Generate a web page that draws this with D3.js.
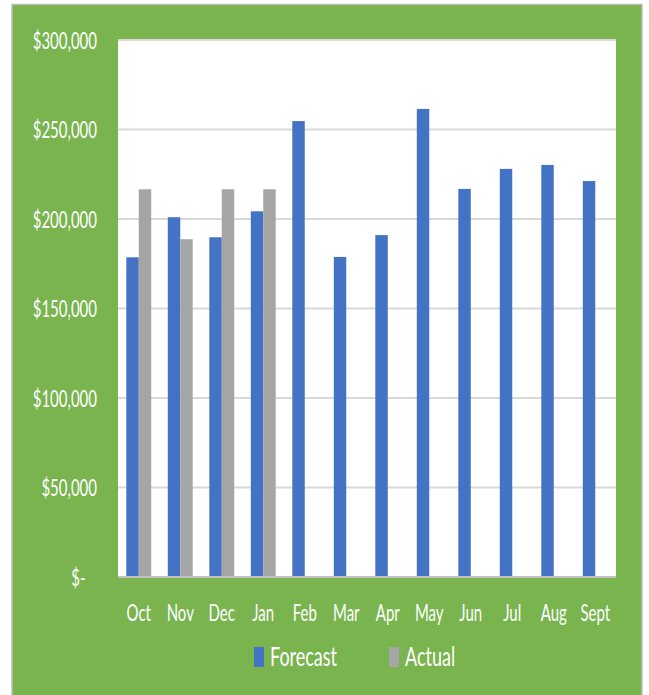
<head>
    <meta name="viewport" content="width=device-width, initial-scale=1">
    <style>
        body { margin: 0; background: #fff; }
        text { font-family: Lato, "Open Sans", sans-serif; fill: #fff; }
    </style>
    <script src="https://d3js.org/d3.v7.min.js"></script>
</head>
<body>
    <div id="chart"></div>
    <script>

        var months = ["Oct", "Nov", "Dec", "Jan", "Feb", "Mar", "Apr", "May", "Jun", "Jul", "Aug", "Sept"];
        var forecast = [178600, 201000, 189800, 204300, 254700, 178800, 191000, 261500, 216800, 228000, 230200, 221200];
        var actual = [216600, 188700, 216600, 216600, null, null, null, null, null, null, null, null];
        var yTicks = [0, 50000, 100000, 150000, 200000, 250000, 300000];
        var seriesNames = ["Forecast", "Actual"];
        var seriesColors = ["#4472c4", "#a5a5a5"];

        var W = 649, H = 695;
        var plot = { left: 118, right: 616, top: 40, bottom: 577 };

        var svg = d3.select("#chart").append("svg")
            .attr("width", W)
            .attr("height", H);

        // green chart area + grey border
        svg.append("rect")
            .attr("x", 12).attr("y", 4.5)
            .attr("width", 630).attr("height", 700)
            .attr("fill", "#79b44f")
            .attr("stroke", "#bdbdbd")
            .attr("stroke-width", 1.5);

        svg.append("rect")
            .attr("x", plot.left).attr("y", plot.top)
            .attr("width", plot.right - plot.left)
            .attr("height", plot.bottom - plot.top)
            .attr("fill", "#ffffff");

        var x0 = d3.scaleBand().domain(months)
            .range([plot.left, plot.right])
            .paddingInner(0.4).paddingOuter(0.2);
        var x1 = d3.scaleBand().domain(seriesNames)
            .range([0, x0.bandwidth()]);
        var y = d3.scaleLinear().domain([0, 300000]).range([plot.bottom, plot.top]);

        // gridlines
        svg.append("g")
            .selectAll("line")
            .data(yTicks.filter(d => d > 0))
            .enter().append("line")
            .attr("x1", plot.left).attr("x2", plot.right)
            .attr("y1", d => y(d)).attr("y2", d => y(d))
            .attr("stroke", "#d9d9d9")
            .attr("stroke-width", 2);

        // y labels
        var fmt = d3.format(",");
        svg.append("g")
            .selectAll("text")
            .data(yTicks)
            .enter().append("text")
            .attr("transform", d => "translate(97," + y(d) + ") scale(1,1.5)")
            .attr("text-anchor", "end")
            .attr("dominant-baseline", "central")
            .attr("font-size", 15)
            .text(d => d === 0 ? "$-\u00a0\u00a0\u00a0" : "$" + fmt(d));

        // bars
        var data = months.map((m, i) => ({ month: m, values: [forecast[i], actual[i]] }));

        var groups = svg.append("g")
            .selectAll("g")
            .data(data)
            .enter().append("g")
            .attr("transform", d => "translate(" + x0(d.month) + ",0)");

        groups.selectAll("rect")
            .data(d => d.values.map((v, j) => ({ name: seriesNames[j], value: v, col: seriesColors[j] })).filter(d => d.value != null))
            .enter().append("rect")
            .attr("x", d => x1(d.name))
            .attr("width", x1.bandwidth())
            .attr("y", d => y(d.value))
            .attr("height", d => y(0) - y(d.value))
            .attr("fill", d => d.col);

        // baseline
        svg.append("line")
            .attr("x1", plot.left).attr("x2", plot.right)
            .attr("y1", plot.bottom).attr("y2", plot.bottom)
            .attr("stroke", "#bfbfbf")
            .attr("stroke-width", 2);

        // x labels
        svg.append("g")
            .selectAll("text")
            .data(months)
            .enter().append("text")
            .attr("transform", d => "translate(" + (x0(d) + x0.bandwidth() / 2) + ",621) scale(1,1.5)")
            .attr("text-anchor", "middle")
            .attr("font-size", 15)
            .text(d => d);

        // legend
        var legendX = [254, 389];
        var legend = svg.append("g")
            .selectAll("g")
            .data(seriesNames)
            .enter().append("g")
            .attr("transform", (d, i) => "translate(" + legendX[i] + ",647)");

        legend.append("rect")
            .attr("width", 10).attr("height", 20)
            .attr("fill", (d, i) => seriesColors[i]);

        legend.append("text")
            .attr("transform", "translate(16,19) scale(1,1.5)")
            .attr("font-size", 18)
            .text(d => d);

    </script>
</body>
